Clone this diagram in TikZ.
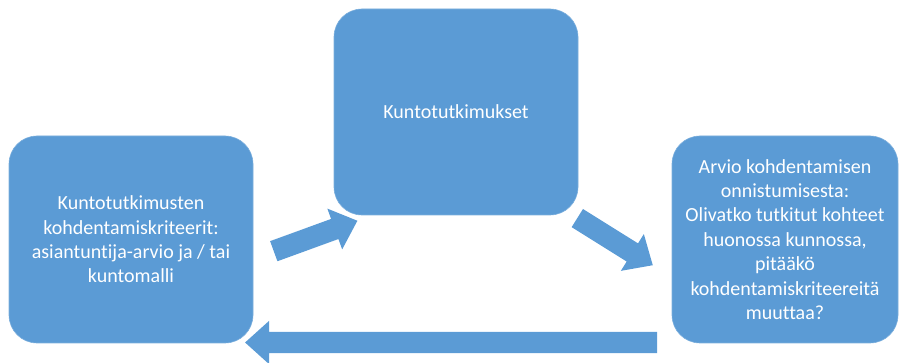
\documentclass[tikz,border=0pt]{standalone}
\usepackage{fontspec}
\setmainfont[Ligatures=NoCommon]{Carlito}
\usetikzlibrary{shapes.arrows}
\definecolor{boxblue}{HTML}{5B9BD5}
\begin{document}
\begin{tikzpicture}[x=1pt,y=-1pt,
    box/.style={fill=boxblue, draw=boxblue!80!white, line width=0.6pt,
      rounded corners=28pt, minimum height=207pt, inner sep=0pt,
      text=white, align=center, font=\fontsize{20}{24.4}\selectfont},
    blockarrow/.style={single arrow, fill=boxblue, draw=none,
      inner xsep=0pt, inner ysep=10.5pt, single arrow head extend=11pt,
      single arrow tip angle=84}]
  \useasboundingbox (0,0) rectangle (900,363);
  \node[box, minimum width=244pt] (criteria) at (131,239.5)
    {Kuntotutkimusten\\kohdentamiskriteerit:\\asiantuntija-arvio ja / tai\\kuntomalli};
  \node[box, minimum width=244pt, minimum height=206pt] (surveys) at (456,112)
    {Kuntotutkimukset};
  \node[box, minimum width=226pt] (review) at (785,239.5)
    {Arvio kohdentamisen\\onnistumisesta:\\Olivatko tutkitut kohteet\\huonossa kunnossa,\\pitääkö\\kohdentamiskriteereitä\\muuttaa?};
  \node[blockarrow, minimum height=89pt, rotate=20] (tosurveys) at (310,238) {};
  \node[blockarrow, minimum height=89pt, rotate=-32] (toreview) at (610,238.5) {};
  \node[blockarrow, minimum height=412pt, rotate=180] (back) at (457,342.5) {};
\end{tikzpicture}
\end{document}
